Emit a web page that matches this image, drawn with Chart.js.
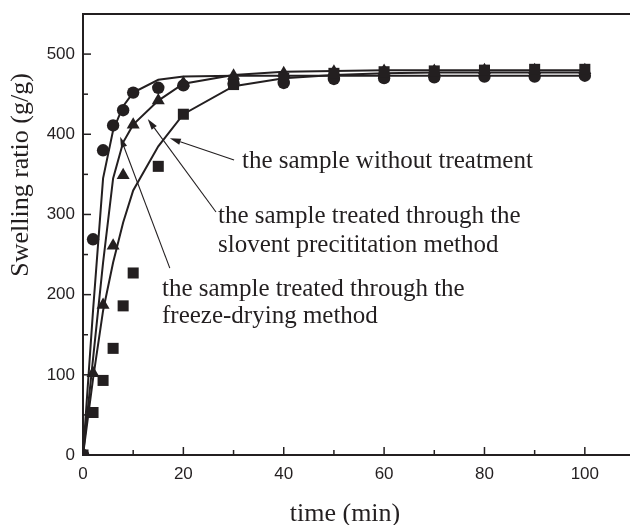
<!DOCTYPE html>
<html><head><meta charset="utf-8">
<script src="https://cdn.jsdelivr.net/npm/chart.js@4/dist/chart.umd.min.js"></script>
<style>html,body{margin:0;padding:0;background:#fff;}#wrap{width:630px;height:525px;}</style>
</head><body><div id="wrap"><canvas id="c" width="630" height="525"></canvas></div>
<script>
// ---- data ----
const time = [0, 2, 4, 6, 8, 10, 15, 20, 30, 40, 50, 60, 70, 80, 90, 100];
const freezeDried = [0, 269, 380, 411, 430, 452, 458, 461, 463, 464, 469, 470, 471, 472, 472, 473];
const solventPrecip = [0, 102, 187, 261, 349, 412, 442, 464, 473, 476, 478, 479, 479, 480, 480, 480];
const untreated = [0, 53, 93, 133, 186, 227, 360, 425, 462, 470, 476, 478, 479, 480, 481, 481];
const freezeFit = [0, 180, 345, 405, 435, 452, 468, 472, 473, 473, 473, 473, 473, 473, 473, 473];
const solventFit = [0, 120, 240, 345, 390, 412, 442, 463, 474, 478, 479, 480, 480, 480, 480, 480];
const untreatedFit = [0, 95, 180, 240, 290, 330, 385, 425, 460, 470, 474, 476, 477, 477, 477, 477];
const xTicks = [0, 20, 40, 60, 80, 100];
const xMinor = [10, 30, 50, 70, 90];
const yTicks = [0, 100, 200, 300, 400, 500];
const yMinor = [50, 150, 250, 350, 450];
const xTitle = 'time (min)';
const yTitle = 'Swelling ratio (g/g)';
const notes = [
  ['the sample without treatment'],
  ['the sample treated through the', 'slovent precititation method'],
  ['the sample treated through the', 'freeze-drying method']
];

// ---- layout / style ----
const INK = '#231f20';
const notePos = [{x: 242, y: 168, lh: 29}, {x: 218, y: 222.5, lh: 29}, {x: 162, y: 296, lh: 27}];
const arrowPos = [ // in data units [time, ratio]
  {from: [30.1, 368], to: [17.3, 395]},
  {from: [26.5, 303], to: [12.9, 419]},
  {from: [17.3, 233], to: [7.4, 397]}
];
const pts = a => time.map((t, i) => ({x: t, y: a[i]}));

const deco = {
  id: 'deco',
  afterDatasetsDraw(chart) {
    const {ctx, chartArea: ca, scales: {x, y}} = chart;
    ctx.save();
    ctx.strokeStyle = INK; ctx.fillStyle = INK;
    ctx.lineWidth = 2;
    ctx.beginPath(); ctx.moveTo(ca.left, ca.top); ctx.lineTo(ca.right, ca.top); ctx.stroke();
    ctx.lineWidth = 1.5;
    const tick = (v, len, hor) => {
      ctx.beginPath();
      if (hor) { const p = x.getPixelForValue(v); ctx.moveTo(p, ca.bottom); ctx.lineTo(p, ca.bottom - len); }
      else { const p = y.getPixelForValue(v); ctx.moveTo(ca.left, p); ctx.lineTo(ca.left + len, p); }
      ctx.stroke();
    };
    xTicks.forEach(v => tick(v, 8, true)); xMinor.forEach(v => tick(v, 5, true));
    yTicks.forEach(v => tick(v, 8, false)); yMinor.forEach(v => tick(v, 5, false));
    ctx.font = '26px "Liberation Serif"';
    ctx.textAlign = 'center'; ctx.textBaseline = 'alphabetic';
    ctx.fillText(xTitle, 345, 521);
    ctx.save(); ctx.translate(28, 175); ctx.rotate(-Math.PI / 2);
    ctx.fillText(yTitle, 0, 0); ctx.restore();
    ctx.font = '25px "Liberation Serif"'; ctx.textAlign = 'left';
    notes.forEach((lines, i) => lines.forEach((s, j) => ctx.fillText(s, notePos[i].x, notePos[i].y + j * notePos[i].lh)));
    ctx.lineWidth = 1.1;
    arrowPos.forEach(a => {
      const x0 = x.getPixelForValue(a.from[0]), y0 = y.getPixelForValue(a.from[1]);
      const x1 = x.getPixelForValue(a.to[0]), y1 = y.getPixelForValue(a.to[1]);
      const ang = Math.atan2(y1 - y0, x1 - x0), L = 11, W = 3.2;
      const bx = x1 - L * Math.cos(ang), by = y1 - L * Math.sin(ang);
      ctx.beginPath(); ctx.moveTo(x0, y0); ctx.lineTo(bx, by); ctx.stroke();
      ctx.beginPath(); ctx.moveTo(x1, y1);
      ctx.lineTo(bx + W * Math.sin(ang), by - W * Math.cos(ang));
      ctx.lineTo(bx - W * Math.sin(ang), by + W * Math.cos(ang));
      ctx.closePath(); ctx.fill();
    });
    ctx.restore();
  }
};

const lineDs = (label, a) => ({label, data: pts(a), showLine: true, borderColor: INK, borderWidth: 2, pointRadius: 0, tension: 0, fill: false, order: 2});
const markDs = (label, a, style, r) => ({label, data: pts(a), showLine: false, pointStyle: style, pointRadius: r, pointBackgroundColor: INK, pointBorderColor: INK, pointBorderWidth: 0, order: 1});

new Chart(document.getElementById('c'), {
  type: 'scatter',
  data: {datasets: [
    lineDs('freeze fit', freezeFit), lineDs('solvent fit', solventFit), lineDs('untreated fit', untreatedFit),
    markDs('untreated', untreated, 'rect', 7.8),
    markDs('solvent precipitation', solventPrecip, 'triangle', 7.5),
    markDs('freeze-drying', freezeDried, 'circle', 6.2)
  ]},
  options: {
    responsive: false, animation: false, devicePixelRatio: 1,
    layout: {autoPadding: false, padding: {top: 14, right: 0, left: 0, bottom: 0}},
    plugins: {legend: {display: false}, tooltip: {enabled: false}},
    scales: {
      x: {type: 'linear', min: 0, max: 109,
        afterBuildTicks: s => { s.ticks = xTicks.map(v => ({value: v})); },
        afterFit: s => { s.height = 70; s.paddingLeft = 0; s.paddingRight = 0; },
        grid: {display: false, drawTicks: false},
        border: {display: true, color: INK, width: 2},
        ticks: {padding: 9, color: INK, font: {family: '"Liberation Sans"', size: 17}}
      },
      y: {type: 'linear', min: 0, max: 550,
        afterBuildTicks: s => { s.ticks = yTicks.map(v => ({value: v})); },
        afterFit: s => { s.width = 83; s.paddingTop = 0; s.paddingBottom = 0; },
        grid: {display: false, drawTicks: false},
        border: {display: true, color: INK, width: 2},
        ticks: {padding: 8, color: INK, font: {family: '"Liberation Sans"', size: 17}}
      }
    }
  },
  plugins: [deco]
});
</script></body></html>
